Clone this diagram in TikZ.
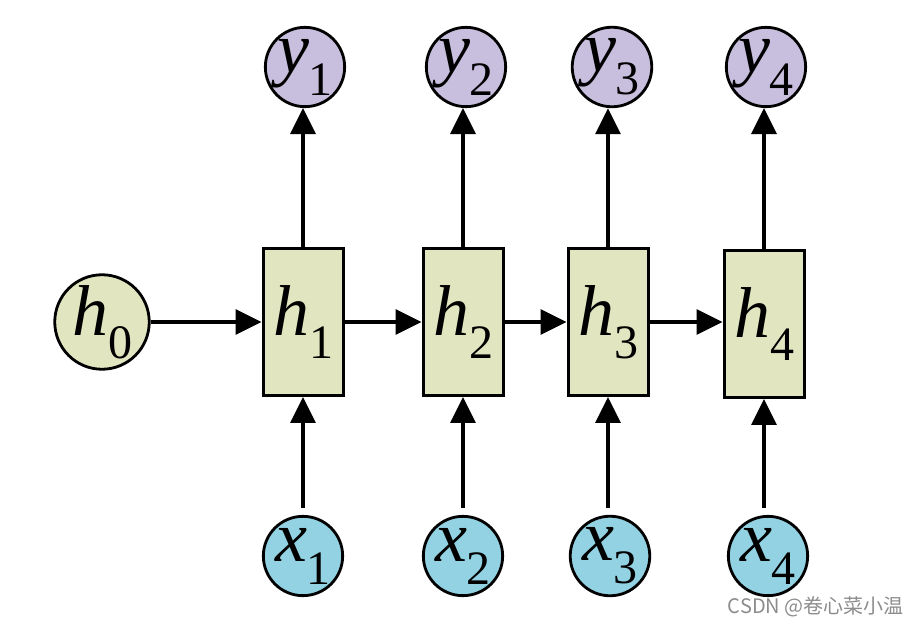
\documentclass[tikz,border=0pt]{standalone}
\usepackage{fontspec}
\setmainfont{Liberation Serif}
\newfontfamily\cjkfont{Noto Sans CJK SC}
\usepackage{tikz}
\usetikzlibrary{arrows.meta,positioning}

\definecolor{cellfill}{RGB}{226,230,192}
\definecolor{outfill}{RGB}{200,190,221}
\definecolor{infill}{RGB}{146,210,226}

% variable with a lowered index, as in the figure
\newcommand{\rnnvar}[2]{\textit{#1}\raisebox{-0.32em}{\fontsize{24}{26}\selectfont #2}}

\begin{document}
\begin{tikzpicture}[
  x=0.5pt, y=-0.5pt,
  cell/.style={rectangle, draw, line width=1.5pt, fill=cellfill, minimum width=40pt, minimum height=73.5pt, inner sep=0pt, font=\fontsize{36}{40}\selectfont},
  state/.style={circle, draw, line width=1.4pt, minimum size=39pt, inner sep=0pt, font=\fontsize{36}{40}\selectfont},
  hstate/.style={state, fill=cellfill},
  outnode/.style={state, fill=outfill},
  innode/.style={state, fill=infill},
  arrow/.style={-{Triangle[length=13pt, width=12.5pt]}, line width=1.6pt}
]
\useasboundingbox (0,0) rectangle (918,626);

% hidden states
\node[hstate] (h0) at (102,322) {\rnnvar{h}{0}};
\node[cell] (h1) at (303,322) {\rnnvar{h}{1}};
\node[cell] (h2) at (463,322) {\rnnvar{h}{2}};
\node[cell] (h3) at (608,322) {\rnnvar{h}{3}};
\node[cell] (h4) at (764,324) {\rnnvar{h}{4}};

% outputs
\node[outnode] (y1) at (305,67) {\rnnvar{y}{1}};
\node[outnode] (y2) at (466,67) {\rnnvar{y}{2}};
\node[outnode] (y3) at (612,67) {\rnnvar{y}{3}};
\node[outnode] (y4) at (766,67) {\rnnvar{y}{4}};

% inputs
\node[innode] (x1) at (303,556) {\rnnvar{x}{1}};
\node[innode] (x2) at (463,556) {\rnnvar{x}{2}};
\node[innode] (x3) at (610,556) {\rnnvar{x}{3}};
\node[innode] (x4) at (768,556) {\rnnvar{x}{4}};

% recurrence
\draw[arrow] (h0) -- (h1);
\draw[arrow] (h1) -- (h2);
\draw[arrow] (h2) -- (h3);
\draw[arrow] (h3) -- (h4.west |- h3);

% cell -> output
\draw[arrow] (h1.north) -- (h1.north |- y1.south);
\draw[arrow] (h2.north) -- (h2.north |- y2.south);
\draw[arrow] (h3.north) -- (h3.north |- y3.south);
\draw[arrow] (h4.north) -- (h4.north |- y4.south);

% input -> cell
\draw[arrow, shorten <=3.5pt] (x1.north -| h1) -- (h1.south);
\draw[arrow, shorten <=3.5pt] (x2.north -| h2) -- (h2.south);
\draw[arrow, shorten <=3.5pt] (x3.north -| h3) -- (h3.south);
\draw[arrow, shorten <=3.5pt] (x4.north -| h4) -- (h4.south);

% watermark
\node[anchor=east, text=black!45, font=\fontsize{10}{12}\selectfont\cjkfont, inner sep=0pt] (mark) at (904,607) {CSDN @卷心菜小温};

\end{tikzpicture}
\end{document}
